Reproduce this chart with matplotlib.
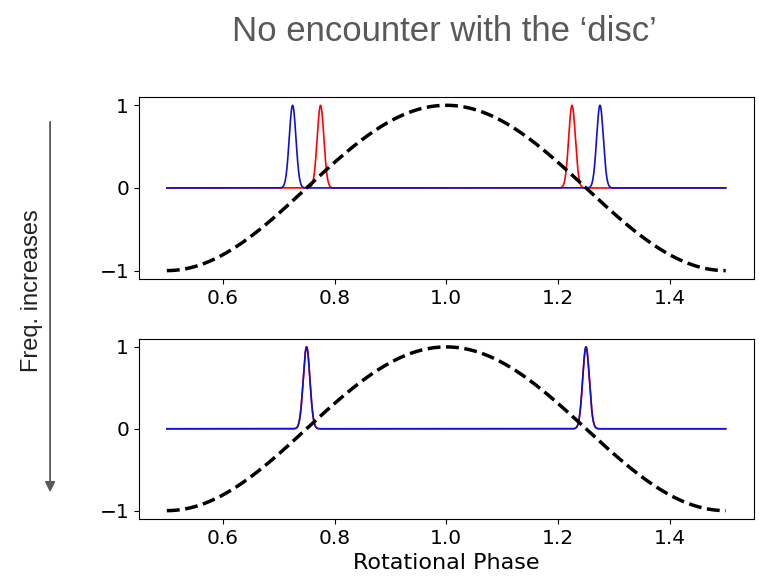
import numpy as np
import matplotlib.pyplot as plt

# peak positions (rotational phase) for each panel
top_red = [0.775, 1.225]
top_blue = [0.725, 1.275]
bot_red = [0.75, 1.25]
bot_blue = [0.75, 1.25]
peak_sigma = 0.006
phase_min, phase_max = 0.5, 1.5

phase = np.linspace(phase_min, phase_max, 3000)
beam = np.cos(2 * np.pi * phase)


def pulses(centres):
    y = np.zeros_like(phase)
    for c in centres:
        y += np.exp(-0.5 * ((phase - c) / peak_sigma) ** 2)
    return y


fig = plt.figure(figsize=(7.59, 5.81), dpi=100)
ax1 = fig.add_axes([0.183, 0.520, 0.810, 0.313])
ax2 = fig.add_axes([0.183, 0.107, 0.810, 0.310])

for ax, red, blue in [(ax1, top_red, top_blue), (ax2, bot_red, bot_blue)]:
    ax.plot(phase, pulses(red), color="red", lw=1.2)
    ax.plot(phase, pulses(blue), color="#1010d0", lw=1.2)
    ax.plot(phase, beam, color="black", lw=2.5, ls="--")
    ax.set_yticks([-1, 0, 1])
    ax.set_xticks([0.6, 0.8, 1.0, 1.2, 1.4])
    ax.tick_params(labelsize=14.5)

ax2.set_xlabel("Rotational Phase", fontsize=16, labelpad=4)

fig.text(0.585, 0.945, "No encounter with the \u2018disc\u2019", ha="center", va="center",
         fontsize=25, color="#595959", family="Liberation Sans")
fig.text(0.042, 0.5, "Freq. increases", rotation=90, ha="center", va="center",
         fontsize=17, color="#222222", family="Liberation Sans")
fig.patches.append(plt.matplotlib.patches.FancyArrowPatch(
    (0.066, 0.795), (0.066, 0.148), transform=fig.transFigure,
    arrowstyle="-|>,head_length=6,head_width=3", color="#595959", lw=1.3))

fig.savefig("out.png", dpi=100)
